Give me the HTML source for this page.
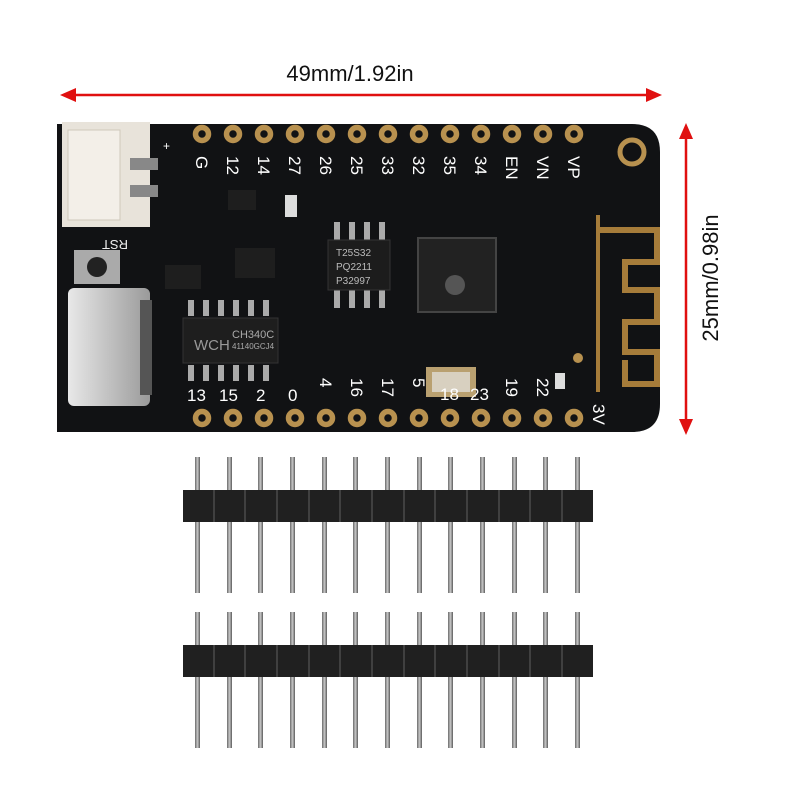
<!DOCTYPE html>
<html><head><meta charset="utf-8"><style>
html,body{margin:0;padding:0;background:#fff;}
svg{display:block;}
text{font-family:"Liberation Sans",sans-serif;}
</style></head><body>
<svg width="800" height="800" viewBox="0 0 800 800" xmlns="http://www.w3.org/2000/svg">
<defs>
<linearGradient id="pin" x1="0" x2="1"><stop offset="0" stop-color="#6a6a6a"/><stop offset="0.5" stop-color="#c8c8c8"/><stop offset="1" stop-color="#5a5a5a"/></linearGradient>
<linearGradient id="usb" x1="0" x2="1"><stop offset="0" stop-color="#e8e8e8"/><stop offset="1" stop-color="#9a9a9a"/></linearGradient>
</defs>
<text x="350" y="81" font-size="22" text-anchor="middle" fill="#111">49mm/1.92in</text>
<line x1="70" y1="95" x2="652" y2="95" stroke="#e01010" stroke-width="2.5"/>
<polygon points="60,95 76,88 76,102" fill="#e01010"/>
<polygon points="662,95 646,88 646,102" fill="#e01010"/>
<line x1="686" y1="133" x2="686" y2="425" stroke="#e01010" stroke-width="2.5"/>
<polygon points="686,123 679,139 693,139" fill="#e01010"/>
<polygon points="686,435 679,419 693,419" fill="#e01010"/>
<text transform="translate(718,278) rotate(-90)" font-size="22" text-anchor="middle" fill="#111">25mm/0.98in</text>
<path d="M57,124 H632 Q660,124 660,152 V404 Q660,432 632,432 H57 Z" fill="#111214"/>
<path d="M600,230 H657 V262 H625 V290 H657 V322 H625 V352 H657 V384 H625 V360" fill="none" stroke="#a67c3a" stroke-width="6"/>
<line x1="598" y1="215" x2="598" y2="392" stroke="#a67c3a" stroke-width="4"/>
<circle cx="632" cy="152" r="12" fill="none" stroke="#b8914f" stroke-width="5"/>
<circle cx="578" cy="358" r="5" fill="#b8914f"/>
<rect x="62" y="122" width="88" height="105" fill="#e8e3da"/>
<rect x="68" y="130" width="52" height="90" fill="#f3efe8" stroke="#cfc8bb"/>
<rect x="130" y="158" width="28" height="12" fill="#888"/>
<rect x="130" y="185" width="28" height="12" fill="#888"/>
<text transform="translate(128,240) rotate(180)" font-size="13" fill="#eee">RST</text>
<rect x="74" y="250" width="46" height="34" fill="#aaa"/>
<circle cx="97" cy="267" r="10" fill="#222"/>
<rect x="68" y="288" width="82" height="118" rx="6" fill="url(#usb)"/>
<rect x="140" y="300" width="12" height="95" fill="#555"/>
<rect x="183" y="318" width="95" height="45" fill="#1e1e1e" stroke="#333"/>
<text x="232" y="338" font-size="11" fill="#aaa">CH340C</text>
<text x="232" y="349" font-size="8" fill="#aaa">41140GCJ4</text>
<text x="194" y="350" font-size="15" fill="#999">WCH</text>
<g fill="#aaa">
<rect x="188" y="300" width="6" height="16"/><rect x="203" y="300" width="6" height="16"/><rect x="218" y="300" width="6" height="16"/><rect x="233" y="300" width="6" height="16"/><rect x="248" y="300" width="6" height="16"/><rect x="263" y="300" width="6" height="16"/>
<rect x="188" y="365" width="6" height="16"/><rect x="203" y="365" width="6" height="16"/><rect x="218" y="365" width="6" height="16"/><rect x="233" y="365" width="6" height="16"/><rect x="248" y="365" width="6" height="16"/><rect x="263" y="365" width="6" height="16"/>
<rect x="334" y="222" width="6" height="18"/><rect x="349" y="222" width="6" height="18"/><rect x="364" y="222" width="6" height="18"/><rect x="379" y="222" width="6" height="18"/>
<rect x="334" y="290" width="6" height="18"/><rect x="349" y="290" width="6" height="18"/><rect x="364" y="290" width="6" height="18"/><rect x="379" y="290" width="6" height="18"/>
</g>
<rect x="328" y="240" width="62" height="50" fill="#1c1c1c" stroke="#333"/>
<text x="336" y="256" font-size="10" fill="#bbb">T25S32</text>
<text x="336" y="270" font-size="10" fill="#bbb">PQ2211</text>
<text x="336" y="284" font-size="10" fill="#bbb">P32997</text>
<rect x="418" y="238" width="78" height="74" fill="#222" stroke="#444" stroke-width="2"/>
<circle cx="455" cy="285" r="10" fill="#555"/>
<rect x="426" y="367" width="50" height="30" fill="#b9a070"/>
<rect x="432" y="372" width="38" height="20" fill="#d8d0c0"/>
<rect x="235" y="248" width="40" height="30" fill="#1e1e1e"/>
<rect x="165" y="265" width="36" height="24" fill="#1e1e1e"/>
<rect x="228" y="190" width="28" height="20" fill="#1e1e1e"/>
<rect x="285" y="195" width="12" height="22" fill="#ddd"/>
<rect x="555" y="373" width="10" height="16" fill="#ddd"/>
<g fill="none" stroke="#b8914f" stroke-width="5.5">
<circle cx="202" cy="134" r="6.5"/><circle cx="233" cy="134" r="6.5"/><circle cx="264" cy="134" r="6.5"/><circle cx="295" cy="134" r="6.5"/><circle cx="326" cy="134" r="6.5"/><circle cx="357" cy="134" r="6.5"/><circle cx="388" cy="134" r="6.5"/><circle cx="419" cy="134" r="6.5"/><circle cx="450" cy="134" r="6.5"/><circle cx="481" cy="134" r="6.5"/><circle cx="512" cy="134" r="6.5"/><circle cx="543" cy="134" r="6.5"/><circle cx="574" cy="134" r="6.5"/>
<circle cx="202" cy="418" r="6.5"/><circle cx="233" cy="418" r="6.5"/><circle cx="264" cy="418" r="6.5"/><circle cx="295" cy="418" r="6.5"/><circle cx="326" cy="418" r="6.5"/><circle cx="357" cy="418" r="6.5"/><circle cx="388" cy="418" r="6.5"/><circle cx="419" cy="418" r="6.5"/><circle cx="450" cy="418" r="6.5"/><circle cx="481" cy="418" r="6.5"/><circle cx="512" cy="418" r="6.5"/><circle cx="543" cy="418" r="6.5"/><circle cx="574" cy="418" r="6.5"/>
</g>
<g fill="#fff" font-size="17" font-weight="500">
<text transform="translate(196,156) rotate(90)">G</text>
<text transform="translate(227,156) rotate(90)">12</text>
<text transform="translate(258,156) rotate(90)">14</text>
<text transform="translate(289,156) rotate(90)">27</text>
<text transform="translate(320,156) rotate(90)">26</text>
<text transform="translate(351,156) rotate(90)">25</text>
<text transform="translate(382,156) rotate(90)">33</text>
<text transform="translate(413,156) rotate(90)">32</text>
<text transform="translate(444,156) rotate(90)">35</text>
<text transform="translate(475,156) rotate(90)">34</text>
<text transform="translate(506,156) rotate(90)">EN</text>
<text transform="translate(537,156) rotate(90)">VN</text>
<text transform="translate(568,156) rotate(90)">VP</text>
<text x="187" y="401">13</text><text x="219" y="401">15</text><text x="256" y="401">2</text><text x="288" y="401">0</text>
<text transform="translate(320,378) rotate(90)">4</text>
<text transform="translate(351,378) rotate(90)">16</text>
<text transform="translate(382,378) rotate(90)">17</text>
<text transform="translate(413,378) rotate(90)">5</text>
<text x="440" y="400">18</text><text x="470" y="400">23</text>
<text transform="translate(506,378) rotate(90)">19</text>
<text transform="translate(537,378) rotate(90)">22</text>
<text transform="translate(593,404) rotate(90)">3V</text>
<text x="163" y="150" font-size="12">+</text>
</g>
<g id="hdr">
<g fill="url(#pin)">
<rect x="195" y="457" width="5" height="136"/><rect x="227" y="457" width="5" height="136"/><rect x="258" y="457" width="5" height="136"/><rect x="290" y="457" width="5" height="136"/><rect x="322" y="457" width="5" height="136"/><rect x="353" y="457" width="5" height="136"/><rect x="385" y="457" width="5" height="136"/><rect x="417" y="457" width="5" height="136"/><rect x="448" y="457" width="5" height="136"/><rect x="480" y="457" width="5" height="136"/><rect x="512" y="457" width="5" height="136"/><rect x="543" y="457" width="5" height="136"/><rect x="575" y="457" width="5" height="136"/>
</g>
<rect x="183" y="490" width="410" height="32" fill="#202020"/>
<g stroke="#4a4a4a" stroke-width="1.5">
<line x1="214" y1="490" x2="214" y2="522"/><line x1="245" y1="490" x2="245" y2="522"/><line x1="277" y1="490" x2="277" y2="522"/><line x1="309" y1="490" x2="309" y2="522"/><line x1="340" y1="490" x2="340" y2="522"/><line x1="372" y1="490" x2="372" y2="522"/><line x1="404" y1="490" x2="404" y2="522"/><line x1="435" y1="490" x2="435" y2="522"/><line x1="467" y1="490" x2="467" y2="522"/><line x1="499" y1="490" x2="499" y2="522"/><line x1="530" y1="490" x2="530" y2="522"/><line x1="562" y1="490" x2="562" y2="522"/>
</g>
</g>
<use href="#hdr" transform="translate(0,155)"/>
</svg>
</body></html>
